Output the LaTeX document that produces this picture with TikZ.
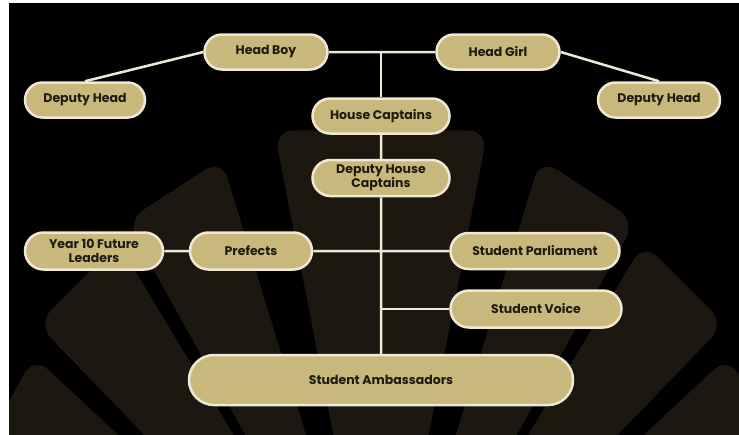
\documentclass[tikz,border=0pt]{standalone}
\usepackage{fontspec}
\setmainfont{Poppins}
\usepackage{xcolor}
\usetikzlibrary{shapes.misc}

\definecolor{badge}{HTML}{C8B87C}
\definecolor{rim}{HTML}{EEE8D4}
\definecolor{fanc}{HTML}{1C1811}
\definecolor{ink}{HTML}{1E1B10}

\begin{document}
\begin{tikzpicture}[x=1pt,y=-1pt,
  role/.style={rounded rectangle, draw=rim, line width=2.5pt, fill=badge, text=ink,
    font=\bfseries\fontsize{12.5}{14.5}\selectfont, inner sep=0pt, minimum height=35pt, align=center},
  link/.style={draw=rim, line width=2.5pt},
  blade/.style={fill=fanc, rounded corners=20pt}]

    \useasboundingbox (0,0) rectangle (739,434);
    \fill[white] (-5,-5) rectangle (745,440);
    \fill[black] (9,3) rectangle (745,440);

% fan in the back
\begin{scope}
    \clip (9,3) rectangle (745,440);
    \fill[blade, shift={(381,680)}] (0,0) -- (-101:560) -- (-79:560) -- cycle;
    \foreach \a/\b/\r/\s in {17/29/545/525, 31/44/510/495, 47/60/475/460}{
        \fill[blade, shift={(381,680)}] (0,0) -- (-90+\a:\r) -- (-90+\b:\s) -- cycle;
        \fill[blade, shift={(381,680)}] (0,0) -- (-90-\a:\r) -- (-90-\b:\s) -- cycle;
    }
\end{scope}

    \node[role, minimum width=123pt] (hb) at (266,52) {Head Boy};
    \node[role, minimum width=123pt] (hg) at (498,52) {Head Girl};
    \node[role, minimum width=120pt] (dhl) at (85,100) {Deputy Head};
    \node[role, minimum width=122pt] (dhr) at (659,100) {Deputy Head};
    \node[role, minimum width=137pt] (hc) at (381,116) {House Captains};
    \node[role, minimum width=137pt, minimum height=36pt] (dhc) at (381,178) {Deputy House\\Captains};
    \node[role, minimum width=138pt, minimum height=37pt] (yfl) at (94,251) {Year 10 Future\\Leaders};
    \node[role, minimum width=122pt, minimum height=37pt] (pf) at (251,251) {Prefects};
    \node[role, minimum width=169pt, minimum height=36pt] (sp) at (535,251) {Student Parliament};
    \node[role, minimum width=171pt, minimum height=37pt] (sv) at (536,309) {Student Voice};
    \node[role, minimum width=384pt, minimum height=50pt] (sa) at (381,380) {Student Ambassadors};

    \coordinate (top) at (381,52);
    \coordinate (jv) at (381,309);

    \draw[link] (hb) -- (hg);
    \draw[link] (top) -- (hc);
    \draw[link] (hc) -- (dhc);
    \draw[link] (dhc) -- (sa);
    \draw[link] (dhl.north) -- (hb.west);
    \draw[link] (dhr.north) -- (hg.east);
    \draw[link] (yfl) -- (pf);
    \draw[link] (pf) -- (sp);
    \draw[link] (jv) -- (sv);

\end{tikzpicture}
\end{document}
